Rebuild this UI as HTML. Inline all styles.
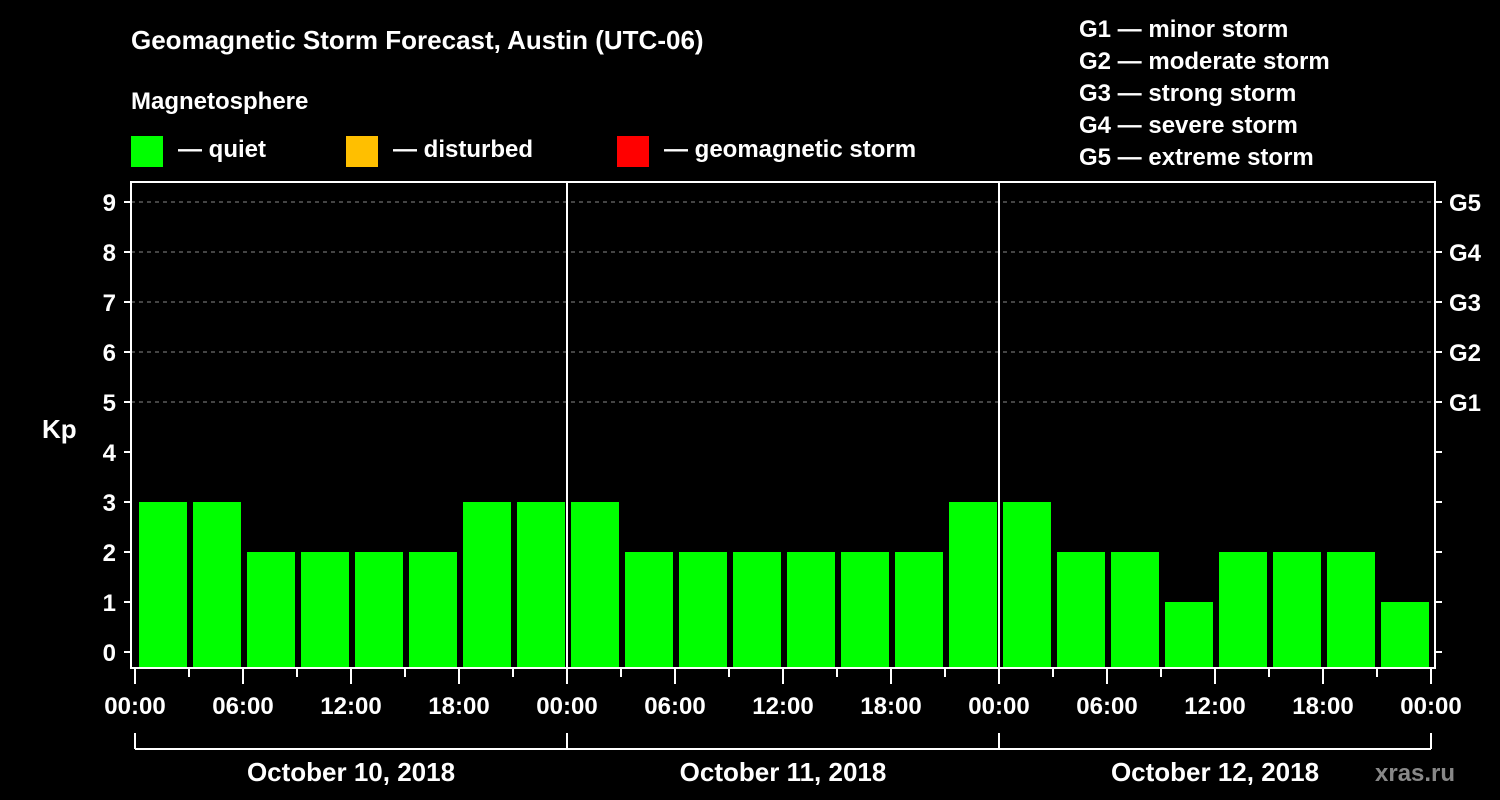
<!DOCTYPE html>
<html><head><meta charset="utf-8"><style>
body{margin:0;background:#000;}
svg{display:block;font-family:"Liberation Sans",Arial,sans-serif;font-weight:bold;fill:#fff;}
</style></head><body>
<svg id="c" width="1500" height="800" viewBox="0 0 1500 800">
<text x="131" y="49" font-size="26">Geomagnetic Storm Forecast, Austin (UTC-06)</text>
<text x="131" y="109" font-size="24">Magnetosphere</text>
<rect x="131" y="136" width="32" height="31" fill="#00ff00"/>
<text x="178" y="157" font-size="24">— quiet</text>
<rect x="346" y="136" width="32" height="31" fill="#ffbf00"/>
<text x="393" y="157" font-size="24">— disturbed</text>
<rect x="617" y="136" width="32" height="31" fill="#ff0000"/>
<text x="664" y="157" font-size="24">— geomagnetic storm</text>
<g font-size="24">
<text x="1079" y="37">G1 — minor storm</text>
<text x="1079" y="69">G2 — moderate storm</text>
<text x="1079" y="101">G3 — strong storm</text>
<text x="1079" y="133">G4 — severe storm</text>
<text x="1079" y="165">G5 — extreme storm</text>
</g>
<text x="42" y="438" font-size="26">Kp</text>
<text x="1375" y="781" font-size="24" fill="#888" style="fill:#888">xras.ru</text>
<g id="plot"></g>
</svg>
<script>
const kpValues=[3,3,2,2,2,2,3,3, 3,2,2,2,2,2,2,3, 3,2,2,1,2,2,2,1];
const dayLabels=["October 10, 2018","October 11, 2018","October 12, 2018"];
const hourLabels=["00:00","06:00","12:00","18:00"];
const gLabels=["G1","G2","G3","G4","G5"];
const yTicks=[0,1,2,3,4,5,6,7,8,9];
const NS="http://www.w3.org/2000/svg";
const g=document.getElementById('plot');
const X0=135, HPX=18, Y0=652, UPX=50, TOP=182, BOT=668, LEFT=131, RIGHT=1435;
const xs=h=>X0+h*HPX, ys=v=>Y0-v*UPX;
function mk(t,a){const e=document.createElementNS(NS,t);for(const k in a)e.setAttribute(k,a[k]);g.appendChild(e);return e;}
function line(x1,y1,x2,y2,extra){return mk('line',Object.assign({x1,y1,x2,y2,stroke:'#fff','stroke-width':2},extra||{}));}
// grid
for(let v=5;v<=9;v++){const l=line(LEFT,ys(v),RIGHT,ys(v),{stroke:'#888','stroke-width':1,'stroke-dasharray':'4,4'});

}
// bars
kpValues.forEach((v,i)=>{const col=v>=5?'#ff0000':(v>=4?'#ffbf00':'#00ff00');
const r=mk('rect',{x:xs(i*3)+4,y:ys(v),width:3*HPX-6,height:BOT-1-ys(v),fill:col});

});
// frame
const fr=mk('rect',{x:LEFT,y:TOP,width:RIGHT-LEFT,height:BOT-TOP,fill:'none',stroke:'#fff','stroke-width':2});


for(let d=1;d<3;d++){const l=line(xs(d*24),TOP,xs(d*24),BOT);

}
// y ticks
yTicks.forEach(v=>{line(LEFT-7,ys(v),LEFT,ys(v));line(RIGHT,ys(v),RIGHT+7,ys(v));
const t=mk('text',{x:116,y:ys(v)+9,'font-size':24,'text-anchor':'end'});t.textContent=v;

});
gLabels.forEach((s,i)=>{const t=mk('text',{x:1449,y:ys(5+i)+9,'font-size':24});t.textContent=s;

});
// x ticks
for(let h=0;h<=72;h+=3){const major=h%6===0;line(xs(h),BOT,xs(h),BOT+(major?16:9));}
for(let h=0;h<=72;h+=6){const t=mk('text',{x:xs(h),y:714,'font-size':24,'text-anchor':'middle'});
t.textContent=hourLabels[(h/6)%4];

}
// day brackets
line(xs(0),749,xs(72),749);
for(let d=0;d<=3;d++)line(xs(d*24),733,xs(d*24),749);
dayLabels.forEach((s,d)=>{const t=mk('text',{x:xs(d*24+12),y:781,'font-size':26,'text-anchor':'middle'});t.textContent=s;

});
</script>
</body></html>
